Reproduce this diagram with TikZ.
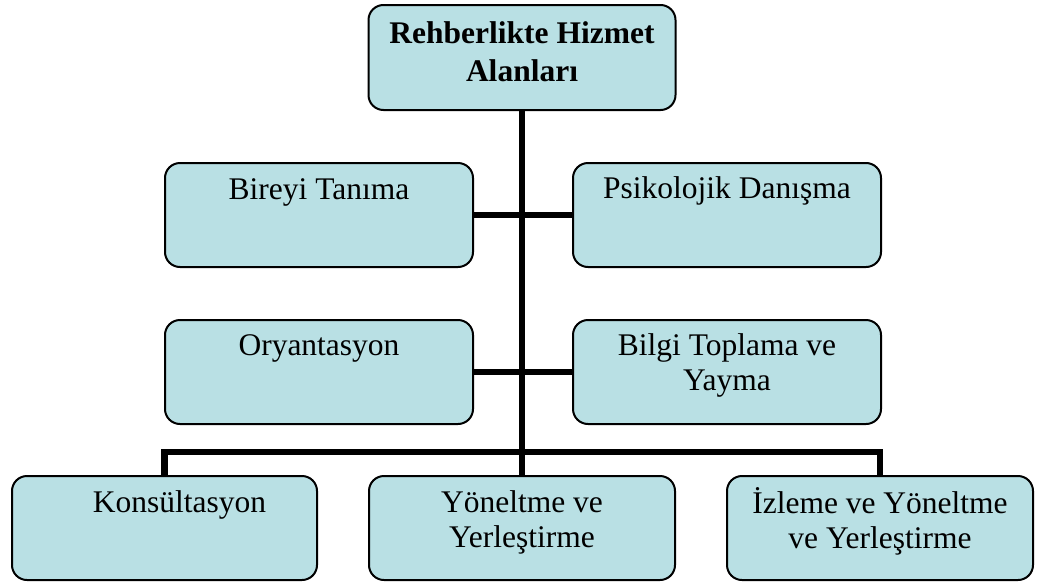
\documentclass[tikz,border=0pt]{standalone}
\usepackage{fontspec}
\setmainfont{Liberation Serif}
\usetikzlibrary{backgrounds}
\definecolor{boxfill}{RGB}{185,224,228}
\newcommand{\boxlbl}[4]{\parbox[c][#2][t]{#1}{\centering\vspace*{#3}\rule{0pt}{30pt}#4\par}}
\begin{document}
\begin{tikzpicture}[x=1pt,y=-1pt,
  box/.style={draw=black, line width=2pt, fill=boxfill, rounded corners=15pt, inner sep=0pt, outer sep=0pt},
  conn/.style={line width=6.5pt, draw=black},
  reg/.style={font=\fontsize{31.5}{35.5}\selectfont},
  bld/.style={font=\fontsize{31.5}{38}\selectfont\bfseries}]
\useasboundingbox (0,0) rectangle (1042,584);

\node[box,bld] (top) at (522,57.5) {\boxlbl{307pt}{105pt}{8.5pt}{Rehberlikte Hizmet\\Alanları}};

\node[box,reg] (b1) at (319,215) {\boxlbl{308pt}{104pt}{6pt}{Bireyi Tanıma}};
\node[box,reg] (b2) at (727,215) {\boxlbl{308pt}{104pt}{5pt}{Psikolojik Danışma}};
\node[box,reg] (b3) at (319,372) {\boxlbl{308pt}{104pt}{5pt}{Oryantasyon}};
\node[box,reg] (b4) at (727,372) {\boxlbl{308pt}{104pt}{5pt}{Bilgi Toplama ve\\Yayma}};

\node[box,reg] (c1) at (164.5,528) {\boxlbl{305pt}{104pt}{6pt}{\hspace*{30pt}Konsültasyon}};
\node[box,reg] (c2) at (522,528) {\boxlbl{306pt}{104pt}{6pt}{Yöneltme ve\\Yerleştirme}};
\node[box,reg] (c3) at (880,528) {\boxlbl{306pt}{104pt}{7pt}{İzleme ve Yöneltme\\ve Yerleştirme}};

\coordinate (bus) at (522,452);

\begin{scope}[on background layer]
\draw[conn] (top.south) -- (c2.north);
\draw[conn] (b1.east) -- (b2.west);
\draw[conn] (b3.east) -- (b4.west);
\draw[conn] (c1.north) |- (bus) -| (c3.north);
\end{scope}
\end{tikzpicture}
\end{document}
